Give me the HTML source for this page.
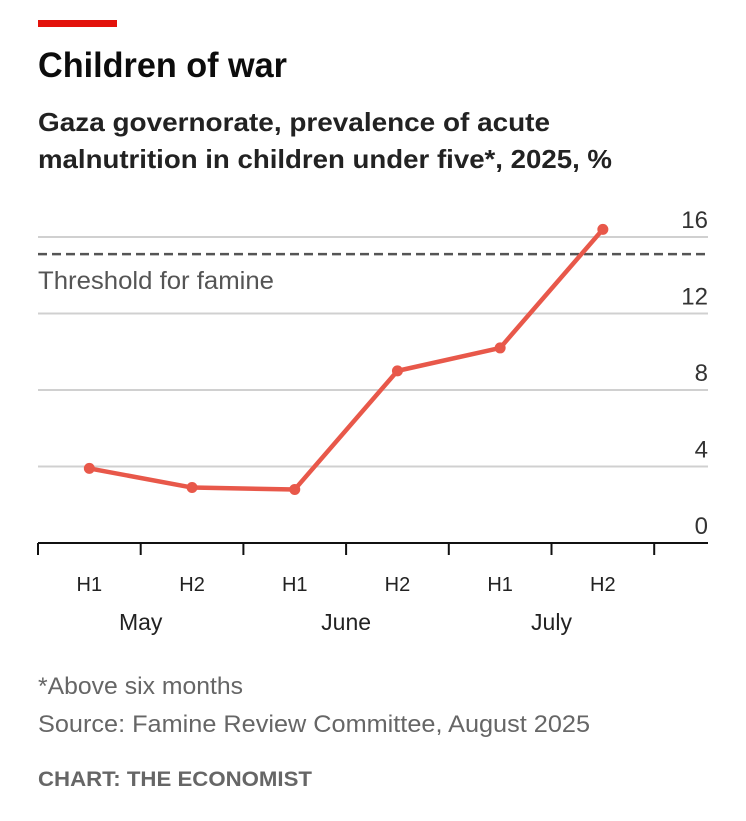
<!DOCTYPE html>
<html><head><meta charset="utf-8"><style>
body{margin:0;width:746px;height:816px;background:#fff;font-family:"Liberation Sans",sans-serif;overflow:hidden}
</style></head><body>
<svg width="746" height="816">
<rect x="38" y="20" width="79" height="7" fill="#e3120b"/>
<text x="38" y="77" font-size="35" font-weight="bold" fill="#0c0c0c" textLength="249" lengthAdjust="spacingAndGlyphs">Children of war</text>
<text x="38" y="131" font-size="26" font-weight="bold" fill="#222" textLength="512" lengthAdjust="spacingAndGlyphs">Gaza governorate, prevalence of acute</text>
<text x="38" y="168" font-size="26" font-weight="bold" fill="#222" textLength="574" lengthAdjust="spacingAndGlyphs">malnutrition in children under five*, 2025, %</text>
<g id="grid"></g>
<g id="plot"></g>
<text x="38" y="694" font-size="24" fill="#666" textLength="205" lengthAdjust="spacingAndGlyphs">*Above six months</text>
<text x="38" y="732" font-size="24" fill="#666" textLength="552" lengthAdjust="spacingAndGlyphs">Source: Famine Review Committee, August 2025</text>
<text x="38" y="786" font-size="21" font-weight="bold" fill="#666" textLength="274" lengthAdjust="spacingAndGlyphs">CHART: THE ECONOMIST</text>
</svg>
<script>
const halves=["H1","H2","H1","H2","H1","H2"];
const months=["May","June","July"];
const values=[3.9,2.9,2.8,9.0,10.2,16.4];
const yTicks=[0,4,8,12,16];
const threshold=15;
const NS="http://www.w3.org/2000/svg";
const x0=38,step=102.7,y0=543,py=19.125;
const xs=i=>x0+step*(i+0.5);
const ys=v=>y0-v*py;
const g=document.getElementById('grid'),p=document.getElementById('plot');
function mk(tag,a,parent){const e=document.createElementNS(NS,tag);for(const k in a)e.setAttribute(k,a[k]);parent.appendChild(e);return e;}
yTicks.forEach(v=>{
  if(v>0){const l=mk('line',{x1:38,x2:708,y1:ys(v),y2:ys(v),stroke:'#d0d0d0','stroke-width':2},g);
  
  }
  const t=mk('text',{x:708,y:ys(v)-9,'font-size':24,fill:'#333','text-anchor':'end'},g);t.textContent=v;
  
  
});
const th=mk('line',{x1:38,x2:708,y1:ys(threshold)-2,y2:ys(threshold)-2,stroke:'#555','stroke-width':2.5,'stroke-dasharray':'9,5'},g);


const tl=mk('text',{x:38,y:289,'font-size':25,fill:'#555',textLength:236,lengthAdjust:'spacingAndGlyphs'},g);tl.textContent='Threshold for famine';


const ax=mk('line',{x1:38,x2:708,y1:y0,y2:y0,stroke:'#111','stroke-width':2},g);


for(let i=0;i<=halves.length;i++){const t=mk('line',{x1:x0+step*i,x2:x0+step*i,y1:y0,y2:y0+12,stroke:'#111','stroke-width':2},g);
  
  }
halves.forEach((h,i)=>{const t=mk('text',{x:xs(i),y:591,'font-size':20,fill:'#222','text-anchor':'middle'},g);t.textContent=h;
  
  });
months.forEach((m,i)=>{const t=mk('text',{x:x0+step*(2*i+1),y:630,'font-size':23,fill:'#222','text-anchor':'middle'},g);t.textContent=m;
  
  });
const pl=mk('polyline',{points:values.map((v,i)=>xs(i)+','+ys(v)).join(' '),fill:'none',stroke:'#e8584a','stroke-width':4.5,'stroke-linejoin':'round'},p);


values.forEach((v,i)=>{const c=mk('circle',{cx:xs(i),cy:ys(v),r:5.5,fill:'#e8584a'},p);
  
  });
</script>
</body></html>
